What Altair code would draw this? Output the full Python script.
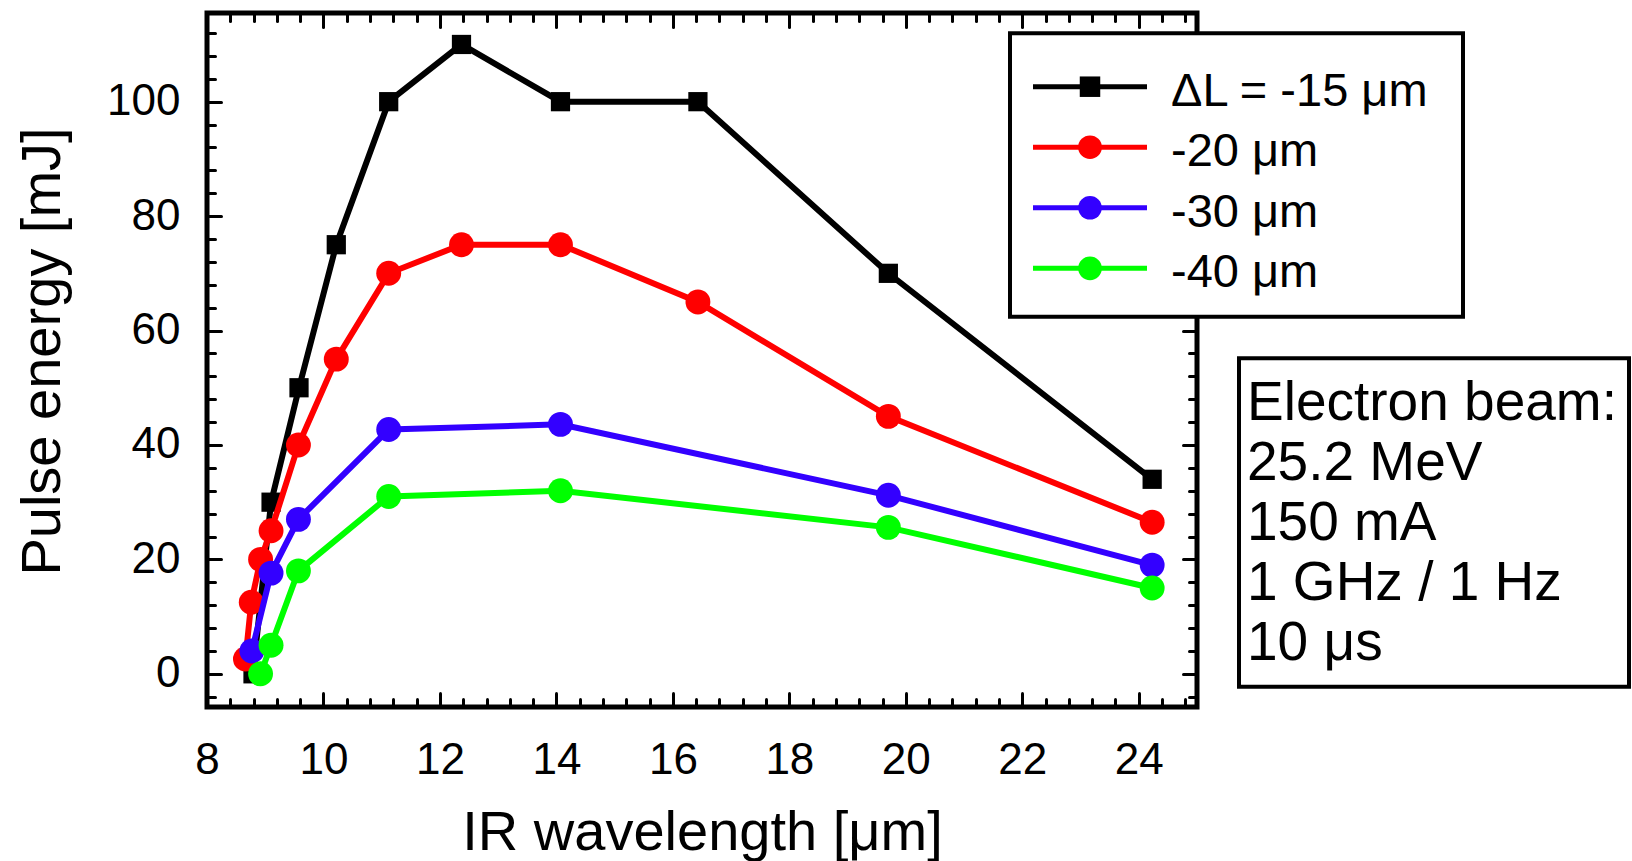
import altair as alt
import pandas as pd

FONT = "Liberation Sans"

# Pulse energy [mJ] against IR wavelength [um] for four cavity detunings
series_names = ["ΔL = -15 μm", "-20 μm", "-30 μm", "-40 μm"]
series_colors = ["#000000", "#ff0000", "#3300ff", "#00ff00"]
series_shapes = ["square", "circle", "circle", "circle"]

wl_15 = [8.79, 9.1, 9.58, 10.22, 11.12, 12.37, 14.07, 16.43, 19.70, 24.23]
pe_15 = [0, 30, 50, 75, 100, 110, 100, 100, 70, 34]

wl_20 = [8.66, 8.76, 8.92, 9.1, 9.57, 10.22, 11.12, 12.37, 14.07, 16.43, 19.70, 24.23]
pe_20 = [2.6, 12.5, 20, 25, 40, 55, 70, 75, 75, 65, 45, 26.5]

wl_30 = [8.77, 9.1, 9.57, 11.12, 14.07, 19.70, 24.23]
pe_30 = [4, 17.6, 27, 42.7, 43.6, 31.2, 19]

wl_40 = [8.92, 9.1, 9.57, 11.12, 14.07, 19.70, 24.23]
pe_40 = [0, 5, 18, 31, 32, 25.6, 15]

info_lines = ["Electron beam:", "25.2 MeV", "150 mA", "1 GHz / 1 Hz", "10 μs"]

x_label_values = [8, 10, 12, 14, 16, 18, 20, 22, 24]
y_label_values = [0, 20, 40, 60, 80, 100]
x_tick_values = [round(8 + 0.4 * i, 1) for i in range(43)]
y_tick_values = list(range(-4, 113, 4))

W, H = 990, 694

x_scale = alt.Scale(domain=[8, 25], nice=False, zero=False)
y_scale = alt.Scale(domain=[-5.8, 115.5], nice=False, zero=False)

label_x_axis = alt.Axis(
    orient="bottom", values=x_label_values, ticks=False, tickSize=0, domain=False,
    grid=False, labelFont=FONT, labelFontSize=44, labelColor="black",
    labelPadding=31, labelFlush=False, labelOverlap=False,
    title="IR wavelength [μm]", titleFont=FONT, titleFontSize=56,
    titleFontWeight="normal", titleColor="black", titleX=495, titleY=142,
    titleBaseline="alphabetic", titleAlign="center", titleAngle=0,
)
label_y_axis = alt.Axis(
    orient="left", values=y_label_values, ticks=False, tickSize=0, domain=False,
    grid=False, labelFont=FONT, labelFontSize=44, labelColor="black",
    labelPadding=27, labelFlush=False, labelOverlap=False,
    title="Pulse energy [mJ]", titleFont=FONT, titleFontSize=56,
    titleFontWeight="normal", titleColor="black", titleX=-148, titleY=338,
    titleBaseline="alphabetic", titleAlign="center", titleAngle=270,
)


def tick_axis(orient, offset, values, test, major, minor):
    # inward-pointing ticks: the axis is flipped to the opposite edge
    return alt.Axis(
        orient=orient, offset=offset, values=values, labels=False, domain=False,
        grid=False, title=None, tickColor="black", tickWidth=3, tickCap="round",
        tickSize={"condition": {"test": test, "value": major}, "value": minor},
    )


x_major = "abs(datum.value / 2 - round(datum.value / 2)) < 1e-6"
y_major = "datum.value % 20 === 0"

axis_sets = [
    (label_x_axis, label_y_axis),
    (tick_axis("top", -H, x_tick_values, x_major, 14, 8),
     tick_axis("right", -W, y_tick_values, y_major, 14, 8)),
    (tick_axis("bottom", -H, x_tick_values, x_major, 14, 8),
     tick_axis("left", -W, y_tick_values, y_major, 14, 8)),
]

series_data = [(wl_15, pe_15), (wl_20, pe_20), (wl_30, pe_30), (wl_40, pe_40)]

layers = []
axis_index = 0


def next_axes():
    global axis_index
    if axis_index < len(axis_sets):
        ax = axis_sets[axis_index]
    else:
        ax = (None, None)
    axis_index += 1
    return ax


for name, color, shape, (wl, pe) in zip(series_names, series_colors, series_shapes, series_data):
    df = pd.DataFrame({"wl": wl, "pe": pe, "series": name})
    xa, ya = next_axes()
    line = alt.Chart(df).mark_line(strokeWidth=6, color=color).encode(
        x=alt.X("wl:Q", scale=x_scale, axis=xa),
        y=alt.Y("pe:Q", scale=y_scale, axis=ya),
    )
    xa, ya = next_axes()
    size = 370 if shape == "square" else 620
    pts = alt.Chart(df).mark_point(
        shape=shape, filled=True, size=size, color=color, opacity=1, strokeWidth=0
    ).encode(
        x=alt.X("wl:Q", scale=x_scale, axis=xa),
        y=alt.Y("pe:Q", scale=y_scale, axis=ya),
    )
    layers += [line, pts]

# legend box
legend_df = pd.DataFrame({"series": series_names, "shape": series_shapes})
legend_y = alt.Y("series:N", scale=alt.Scale(type="point", domain=series_names,
                                              range=[73.7, 255.3], padding=0), axis=None)
legend_color = alt.Color("series:N", scale=alt.Scale(domain=series_names, range=series_colors),
                         legend=None)

legend_box = alt.Chart(alt.Data(values=[{}])).mark_rect(
    fill="white", stroke="black", strokeWidth=4
).encode(x=alt.value(803), x2=alt.value(1256), y=alt.value(20.3), y2=alt.value(303.7))

legend_lines = alt.Chart(legend_df).mark_rule(strokeWidth=5).encode(
    x=alt.value(826), x2=alt.value(940), y=legend_y, color=legend_color
)
legend_squares = alt.Chart(legend_df).transform_filter(
    alt.datum.shape == "square"
).mark_point(shape="square", filled=True, size=420, opacity=1, strokeWidth=0).encode(
    x=alt.value(883), y=legend_y, color=legend_color
)
legend_circles = alt.Chart(legend_df).transform_filter(
    alt.datum.shape == "circle"
).mark_point(shape="circle", filled=True, size=560, opacity=1, strokeWidth=0).encode(
    x=alt.value(883), y=legend_y, color=legend_color
)
legend_text = alt.Chart(legend_df).mark_text(
    font=FONT, fontSize=47, align="left", baseline="alphabetic", dy=19, color="black"
).encode(x=alt.value(964), y=legend_y, text="series:N")

# electron beam parameters box
info_df = pd.DataFrame({"line": info_lines})
info_y = alt.Y("line:N", scale=alt.Scale(type="point", domain=info_lines,
                                         range=[407, 647], padding=0), axis=None)
info_box = alt.Chart(alt.Data(values=[{}])).mark_rect(
    fill="white", stroke="black", strokeWidth=4
).encode(x=alt.value(1032), x2=alt.value(1422), y=alt.value(345.3), y2=alt.value(673.7))
info_text = alt.Chart(info_df).mark_text(
    font=FONT, fontSize=55, align="left", baseline="alphabetic", color="black"
).encode(x=alt.value(1040), y=info_y, text="line:N")

layers += [legend_box, legend_lines, legend_squares, legend_circles, legend_text,
           info_box, info_text]

chart = alt.layer(*layers).properties(
    width=W, height=H,
    padding={"left": 207, "top": 13, "right": 435, "bottom": 154},
    autosize=alt.AutoSizeParams(type="none"),
    background="white",
).resolve_scale(y="independent").resolve_axis(
    x="independent", y="independent"
).configure_view(stroke="black", strokeWidth=5)

chart.save("out.html", embed_options={"renderer": "svg", "actions": False})
